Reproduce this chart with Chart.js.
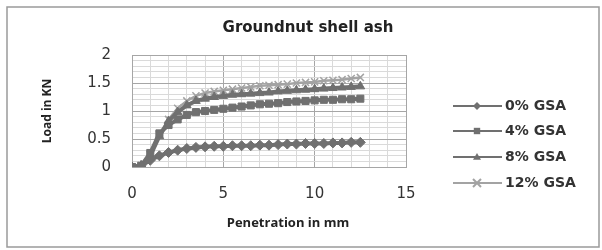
<!DOCTYPE html>
<html>
<head>
<meta charset="utf-8">
<script src="https://cdn.jsdelivr.net/npm/chart.js@4.4.1/dist/chart.umd.min.js"></script>
<style>
  html, body { margin: 0; padding: 0; background: #fff; }
  #wrap { width: 602px; height: 250px; position: relative; }
</style>
</head>
<body>
<div id="wrap"><canvas id="gsaChart" width="602" height="250"></canvas></div>
<script>
// Dados
const penetration = [0, 0.5, 1, 1.5, 2, 2.5, 3, 3.5, 4, 4.5, 5, 5.5, 6, 6.5, 7, 7.5, 8, 8.5, 9, 9.5, 10, 10.5, 11, 11.5, 12, 12.5];
const gsa0 = [0, 0.02, 0.12, 0.2, 0.26, 0.3, 0.33, 0.35, 0.36, 0.37, 0.37, 0.38, 0.38, 0.38, 0.39, 0.39, 0.4, 0.41, 0.41, 0.42, 0.42, 0.42, 0.43, 0.43, 0.44, 0.44];
const gsa4 = [0, 0.02, 0.25, 0.6, 0.75, 0.85, 0.93, 0.98, 1.0, 1.02, 1.04, 1.06, 1.08, 1.1, 1.12, 1.13, 1.14, 1.16, 1.17, 1.18, 1.19, 1.2, 1.2, 1.21, 1.21, 1.22];
const gsa8 = [0, 0.03, 0.2, 0.55, 0.82, 0.98, 1.1, 1.18, 1.22, 1.25, 1.27, 1.29, 1.3, 1.31, 1.32, 1.33, 1.35, 1.36, 1.37, 1.38, 1.39, 1.4, 1.41, 1.42, 1.43, 1.44];
const gsa12 = [0, 0.03, 0.22, 0.58, 0.85, 1.05, 1.18, 1.27, 1.32, 1.35, 1.37, 1.39, 1.41, 1.43, 1.45, 1.46, 1.47, 1.48, 1.5, 1.51, 1.52, 1.54, 1.55, 1.56, 1.58, 1.6];
const seriesLabels = ['0% GSA', '4% GSA', '8% GSA', '12% GSA'];
const pointStyles = ['rectRot', 'rect', 'triangle', 'crossRot'];
const seriesColors = ['#707070', '#707070', '#707070', '#a3a3a3'];

const FONT = "'Open Sans', 'DejaVu Sans', sans-serif";
const WIDE = "'DejaVu Sans', sans-serif";
const allSeries = [gsa0, gsa4, gsa8, gsa12];

const pts = (ys) => penetration.map((x, i) => ({ x: x, y: ys[i] }));

// desenha o ponto da legenda
function drawMarker(ctx, style, x, y, r) {
    ctx.beginPath();
    if (style === 'rectRot') {
        ctx.moveTo(x, y - r); ctx.lineTo(x + r, y); ctx.lineTo(x, y + r); ctx.lineTo(x - r, y);
        ctx.closePath(); ctx.fill();
    } else if (style === 'rect') {
        ctx.rect(x - r * 0.8, y - r * 0.8, r * 1.6, r * 1.6); ctx.fill();
    } else if (style === 'triangle') {
        ctx.moveTo(x, y - r); ctx.lineTo(x + r, y + r * 0.7); ctx.lineTo(x - r, y + r * 0.7);
        ctx.closePath(); ctx.fill();
    } else {
        ctx.moveTo(x - r, y - r); ctx.lineTo(x + r, y + r);
        ctx.moveTo(x + r, y - r); ctx.lineTo(x - r, y + r); ctx.stroke();
    }
}

const extras = {
    id: 'extras',
    afterDraw(chart) {
        const ctx = chart.ctx;
        ctx.save();
        // moldura externa
        ctx.strokeStyle = '#9a9a9a';
        ctx.lineWidth = 1.5;
        ctx.strokeRect(7, 7, 592, 240);

        // título
        ctx.fillStyle = '#222';
        ctx.textAlign = 'center';
        ctx.textBaseline = 'middle';
        ctx.font = 'bold 15px ' + WIDE;
        ctx.fillText('Groundnut shell ash', 308, 28);

        // título do eixo x
        ctx.font = 'bold 13px ' + FONT;
        ctx.fillText('Penetration in mm', 288, 223);

        // legenda
        const rows = [106, 131, 157, 183];
        ctx.textAlign = 'left';
        ctx.font = 'bold 14px ' + WIDE;
        rows.forEach((y, i) => {
            ctx.strokeStyle = seriesColors[i];
            ctx.fillStyle = seriesColors[i];
            ctx.lineWidth = 2;
            ctx.beginPath();
            ctx.moveTo(453, y); ctx.lineTo(502, y); ctx.stroke();
            drawMarker(ctx, pointStyles[i], 477, y, 4);
            ctx.fillStyle = '#333';
            ctx.fillText(seriesLabels[i], 505, y);
        });
        ctx.restore();
    }
};

const gridColor = (c) => (c.tick && Math.round(c.tick.value * 10) % 5 === 0) ? '#a6a6a6' : '#dadada';
const gridColorX = (c) => (c.tick && Math.round(c.tick.value) % 5 === 0) ? '#a6a6a6' : '#dadada';

const ctx = document.getElementById('gsaChart').getContext('2d');
const gsaChart = new Chart(ctx, {
    type: 'scatter',
    data: {
        datasets: allSeries.map((ys, i) => ({
            label: seriesLabels[i],
            data: pts(ys),
            showLine: true,
            borderColor: seriesColors[i],
            backgroundColor: seriesColors[i],
            borderWidth: i === 3 ? 2.5 : 4,
            pointStyle: pointStyles[i],
            pointRadius: 5,
            pointBorderWidth: i === 3 ? 1.5 : 1,
            tension: 0
        }))
    },
    options: {
        responsive: false,
        animation: false,
        layout: { padding: { left: 0, right: 196, top: 55, bottom: 0 } },
        plugins: {
            legend: { display: false },
            tooltip: { enabled: false },
            title: { display: false }
        },
        scales: {
            x: {
                type: 'linear',
                min: 0,
                max: 15,
                afterFit(scale) { scale.height = 83; },
                ticks: {
                    stepSize: 1,
                    autoSkip: false,
                    maxRotation: 0,
                    padding: 18,
                    color: '#333',
                    font: { family: WIDE, size: 15 },
                    callback: (v) => (v % 5 === 0 ? v : '')
                },
                grid: { color: gridColorX, drawTicks: false },
                border: { color: '#a6a6a6' }
            },
            y: {
                min: 0,
                max: 2,
                afterFit(scale) { scale.width = 132; },
                ticks: {
                    stepSize: 0.1,
                    autoSkip: false,
                    padding: 21,
                    color: '#333',
                    font: { family: WIDE, size: 15 },
                    callback: (v) => (Math.round(v * 10) % 5 === 0 ? String(Math.round(v * 10) / 10) : '')
                },
                grid: { color: gridColor, drawTicks: false },
                border: { color: '#a6a6a6' },
                title: {
                    display: true,
                    text: 'Load in KN',
                    color: '#222',
                    font: { family: FONT, size: 12, weight: 'bold' },
                    padding: { top: 40, bottom: 0 }
                }
            }
        }
    },
    plugins: [extras]
});
</script>
</body>
</html>
